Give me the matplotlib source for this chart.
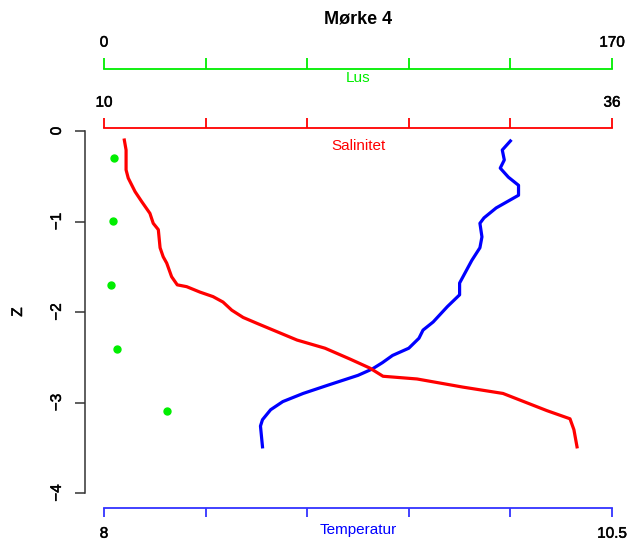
import matplotlib
matplotlib.use("Agg")
import matplotlib.pyplot as plt
import matplotlib.patheffects as pe

plt.rcParams['font.family'] = ['Liberation Sans', 'DejaVu Sans']
plt.rcParams['font.size'] = 11

# Lus (green points)
lus = [3.3, 3.0, 2.3, 4.4, 21.1]
lus_z = [-0.30, -0.99, -1.70, -2.41, -3.09]

# Salinitet (red line)
sal = [11.04, 11.13, 11.13, 11.24, 11.59, 11.93, 12.35, 12.52, 12.78, 12.87,
       13.03, 13.21, 13.46, 13.75, 14.23, 14.91, 15.58, 16.09, 16.54, 17.12,
       17.88, 19.88, 21.31, 22.59, 23.61, 24.28, 26.02, 28.37, 30.42,
       32.67, 33.85, 34.05, 34.21]
sal_z = [-0.10, -0.21, -0.43, -0.52, -0.67, -0.78, -0.91, -1.02, -1.09, -1.29,
         -1.39, -1.46, -1.61, -1.70, -1.72, -1.78, -1.83, -1.89, -1.98, -2.06,
         -2.13, -2.31, -2.40, -2.52, -2.62, -2.71, -2.74, -2.83, -2.90,
         -3.09, -3.18, -3.30, -3.49]

# Temperatur (blue line)
temp = [10.00, 9.96, 9.97, 9.95, 9.99, 10.04, 10.04, 9.93, 9.87, 9.85,
        9.86, 9.85, 9.81, 9.75, 9.75, 9.69, 9.62, 9.57, 9.55, 9.50,
        9.42, 9.37, 9.32, 9.25, 9.10, 8.98, 8.88, 8.82, 8.78, 8.77, 8.78]
temp_z = [-0.11, -0.21, -0.32, -0.41, -0.51, -0.60, -0.71, -0.85, -0.96, -1.02,
          -1.17, -1.29, -1.43, -1.68, -1.81, -1.94, -2.11, -2.20, -2.29, -2.40,
          -2.48, -2.56, -2.63, -2.70, -2.81, -2.90, -2.99, -3.08, -3.19, -3.26, -3.49]

lus_lim = (0, 170)
sal_lim = (10, 36)
temp_lim = (8, 10.5)

W, H = 627, 544
fig = plt.figure(figsize=(W / 100, H / 100), dpi=100)
ax = fig.add_axes([104 / W, 1 - 493 / H, (612 - 104) / W, (493 - 131) / H])
ax_s = ax.twiny()
ax_l = ax.twiny()

px = 0.72  # points per pixel
heavy = [pe.withStroke(linewidth=0.35, foreground='black')]

# temperature axis (bottom)
ax.plot(temp, temp_z, color='#0000ff', lw=2.3)
ax.set_xlim(*temp_lim)
ax.set_ylim(-4, 0)
for s in ['top', 'right']:
    ax.spines[s].set_visible(False)
ax.spines['bottom'].set_position(('outward', 15 * px))
ax.spines['bottom'].set_color('#3333ff')
ax.spines['bottom'].set_linewidth(1.3)
ax.spines['left'].set_position(('outward', 19 * px))
ax.spines['left'].set_linewidth(1.1)
ax.spines['left'].set_color('#333333')
t_ticks = [temp_lim[0] + i * (temp_lim[1] - temp_lim[0]) / 5 for i in range(6)]
ax.set_xticks(t_ticks, ['8', '', '', '', '', '10.5'])
ax.tick_params(axis='x', colors='#3333ff', labelcolor='black', length=9 * px,
               width=1.3, pad=7)
ax.set_yticks([0, -1, -2, -3, -4])
ax.tick_params(axis='y', length=10 * px, width=1.1, color='#333333', pad=8)
for lab in ax.get_yticklabels():
    lab.set_rotation(90)
    lab.set_va('center')

# salinity axis (top, just above plot)
ax_s.plot(sal, sal_z, color='#ff0000', lw=2.3)
ax_s.set_xlim(*sal_lim)
for s in ['bottom', 'left', 'right']:
    ax_s.spines[s].set_visible(False)
ax_s.spines['top'].set_position(('outward', 3 * px))
ax_s.spines['top'].set_color('#ff0000')
ax_s.spines['top'].set_linewidth(1.3)
s_ticks = [sal_lim[0] + i * (sal_lim[1] - sal_lim[0]) / 5 for i in range(6)]
ax_s.set_xticks(s_ticks, ['10', '', '', '', '', '36'])
ax_s.tick_params(axis='x', colors='#ff0000', labelcolor='black', length=10 * px,
                 width=1.3, pad=6)

# lus axis (top, highest)
ax_l.plot(lus, lus_z, 'o', color='#00ee00', ms=5)
ax_l.set_xlim(*lus_lim)
for s in ['bottom', 'left', 'right']:
    ax_l.spines[s].set_visible(False)
ax_l.spines['top'].set_position(('outward', 62 * px))
ax_l.spines['top'].set_color('#00ee00')
ax_l.spines['top'].set_linewidth(1.3)
l_ticks = [lus_lim[0] + i * (lus_lim[1] - lus_lim[0]) / 5 for i in range(6)]
ax_l.set_xticks(l_ticks, ['0', '', '', '', '', '170'])
ax_l.tick_params(axis='x', colors='#00ee00', labelcolor='black', length=11 * px,
                 width=1.3, pad=6)

for a in (ax, ax_s, ax_l):
    for lab in a.get_xticklabels() + a.get_yticklabels():
        lab.set_path_effects(heavy)

cx = 358 / W
fig.text(cx, 1 - 19 / H, 'Mørke 4', ha='center', va='center', fontsize=13, fontweight='bold')
fig.text(cx, 1 - 78 / H, 'Lus', ha='center', va='center', color='#00ee00')
fig.text(cx, 1 - 146 / H, 'Salinitet', ha='center', va='center', color='#ff0000')
fig.text(cx, 1 - 530 / H, 'Temperatur', ha='center', va='center', color='#0000ff')
fig.text(18 / W, 1 - 312 / H, 'Z', ha='center', va='center', rotation=90,
         path_effects=heavy)

fig.savefig('out.png', dpi=100)
